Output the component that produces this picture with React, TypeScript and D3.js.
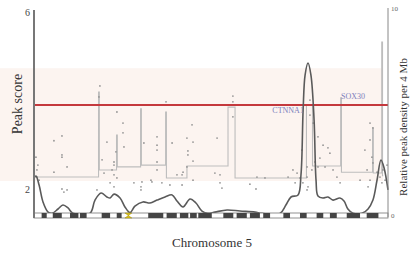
import React from 'react';
import * as d3 from 'd3';

// chromosome 5 positions in Mb
const chromLength = 181;

// relative peak density per 4 Mb (right axis)
const densityPos = [0, 1, 2.6, 4.6, 7.2, 9.2, 12.3, 14.8, 17.4, 19.9, 28.6, 31.2, 34.3, 37.3, 38.9, 40.9, 44, 46.5, 49.1, 51.6, 55.7, 59.3, 62.9, 67, 70.6, 73.1, 76.2, 79.8, 82.8, 85.9, 88.9, 92.5, 98.7, 105.3, 113, 116.6, 125.8, 128.8, 131.4, 135, 136.5, 137.6, 138.6, 140.1, 141.6, 143.2, 144.2, 145.2, 147.7, 150.3, 152.9, 156.4, 158.5, 160.5, 163.1, 167.7, 170.8, 173.3, 175.4, 177.4, 179, 181];
const densityVal = [1.79, 1.88, 1.45, 0.63, 0.14, 0.08, 0.29, 0.48, 0.34, 0.08, 0.08, 0.72, 1.06, 0.87, 0.82, 1.01, 0.82, 0.39, 0.12, 0.43, 0.63, 0.58, 0.72, 0.87, 0.97, 0.68, 0.39, 0.77, 0.58, 0.19, 0.08, 0.14, 0.24, 0.19, 0.14, 0.08, 0.08, 0.48, 0.87, 0.97, 1.93, 5.07, 6.76, 7.34, 6.76, 4.59, 1.69, 0.92, 0.82, 0.87, 0.72, 0.82, 0.68, 0.29, 0.08, 0.08, 0.29, 0.72, 1.69, 2.66, 2.27, 1.21];

// segment levels of peak score
const segStart = [0, 33.0, 33.4, 42.2, 42.6, 54.5, 54.9, 67.3, 67.7, 78.2, 99.2, 102.8, 139.3, 142.4, 156.8, 157.2, 173.1, 173.5, 177.8, 178.2];
const segEnd = [33.0, 33.4, 42.2, 42.6, 54.5, 54.9, 67.3, 67.7, 78.2, 99.2, 102.8, 139.3, 142.4, 156.8, 157.2, 173.1, 173.5, 177.8, 178.2, 178.6];
const segLevel = [2.27, 4.19, 2.43, 3.22, 2.5, 3.81, 2.54, 3.74, 2.25, 2.52, 3.85, 2.25, 3.9, 2.52, 4.06, 2.38, 3.38, 2.36, 5.32, 2.3];

// individual peaks
const peakPos = [13.8, 10.2, 14.3, 14.3, 14.3, 16.9, 10.2, 14.3, 16.9, 15.3, 33.2, 33.7, 42.4, 45.5, 45.5, 37.3, 46, 41.9, 34.8, 40.9, 40.9, 39.9, 35.8, 40.9, 42.4, 38.9, 40.9, 32.2, 51.1, 55.2, 54.7, 54.7, 59.8, 56.2, 1, 1.5, 1.5, 2, 2.6, 67.5, 101.7, 101.7, 101.7, 80.8, 78.2, 81.3, 70.6, 93.6, 62.9, 62.9, 62.9, 78.7, 78.7, 81.3, 62.9, 78.2, 62.9, 76.2, 75.7, 73.1, 69.5, 75.7, 81.3, 95.1, 92.5, 95.1, 96.1, 110.4, 114, 113.5, 118.1, 65.4, 60.3, 141.1, 141.1, 142.7, 145.2, 147.8, 150.3, 151.3, 146.2, 143.7, 142.1, 145.2, 148.8, 152.9, 154.9, 156.5, 132.4, 134.5, 129.9, 136, 137.5, 133.5, 139.6, 140.1, 139.6, 139.6, 137, 171.8, 173.3, 171.8, 169.2, 172.8, 173.3, 170.3, 175.4, 176.9, 178.4, 179.5, 177.9, 171.8, 170.8, 180.5, 166.7];
const peakScore = [3.9, 3.09, 3.2, 2.77, 2.72, 2.5, 2.38, 2.0, 1.98, 1.93, 4.08, 4.33, 3.74, 3.49, 3.27, 3.06, 2.95, 2.84, 2.66, 2.61, 2.54, 2.43, 2.36, 2.32, 2.25, 2.14, 2.05, 1.98, 2.14, 2.16, 2.05, 1.98, 2.2, 3.04, 2.72, 2.43, 2.27, 2.54, 2.2, 3.97, 4.1, 3.97, 3.63, 3.45, 3.15, 3.06, 3.04, 3.15, 3.18, 2.99, 2.88, 2.86, 2.77, 2.63, 2.61, 2.5, 2.43, 2.38, 2.32, 2.32, 2.09, 2.09, 2.2, 2.32, 2.36, 2.14, 2.02, 2.11, 2.27, 2.0, 2.25, 2.14, 2.16, 4.01, 3.67, 3.49, 3.18, 2.99, 2.93, 2.81, 2.7, 2.61, 2.43, 2.5, 2.5, 2.43, 2.27, 2.14, 2.43, 2.36, 2.27, 2.25, 2.14, 2.14, 1.98, 2.05, 2.27, 2.5, 2.88, 3.49, 3.38, 3.11, 2.88, 2.72, 2.59, 2.43, 2.38, 2.27, 2.43, 2.2, 2.14, 2.2, 2.05, 2.54, 2.2];

// cytogenetic bands (dark) and centromere
const bandStart = [3.9, 9.6, 18.4, 23.5, 34.6, 42.3, 58.4, 67.8, 74.6, 79.8, 84.0, 96.8, 103.6, 110.4, 117.2, 127.5, 136.0, 144.5, 151.3, 159.9, 170.1];
const bandEnd = [6.5, 14.2, 22.7, 26.9, 38.9, 44.8, 66.1, 73.0, 78.9, 83.2, 90.9, 101.9, 108.8, 115.5, 120.7, 130.9, 139.4, 147.9, 154.8, 166.7, 176.1];
const centromere = [46.5, 50.0];

const threshold = 3.9;
const bandRange = [2.18, 4.73];

const geneNames = ['CTNNA1', 'SOX30'];
const genePos = [138.0, 157.0];
const geneScore = [3.72, 4.03];
const geneAnchor = ['end', 'start'];

const leftTicks = [2, 6];
const rightTicks = [0, 10];

const App: React.FC = () => {
  const width = 410;
  const height = 254;
  const x = d3.scaleLinear().domain([0, chromLength]).range([34, 388]);
  const y = d3.scaleLinear().domain([2, 6]).range([189, 12]);
  const yR = d3.scaleLinear().domain([0, 10]).range([215, 8]);
  const serif = '"Liberation Serif", "DejaVu Serif", serif';

  const densityLine = d3
    .line<number>()
    .x((d, i) => x(densityPos[i]))
    .y((d) => yR(d))
    .curve(d3.curveCatmullRom.alpha(0.5));

  let stepPath = '';
  segLevel.forEach((lv, i) => {
    const x0 = x(segStart[i]);
    const x1 = x(segEnd[i]);
    const yy = y(lv);
    stepPath += (i === 0 ? `M${x0},${yy}` : `L${x0},${yy}`) + `L${x1},${yy}`;
  });

  const ideoY = 213;
  const ideoH = 5;
  const c0 = x(centromere[0]);
  const c1 = x(centromere[1]);
  const cm = (c0 + c1) / 2;

  return (
    <svg
      width={width}
      height={height}
      style={{ position: 'absolute', left: 0, top: 0, background: '#fff' }}
    >
      {/* highlighted score band */}
      <rect
        x={0}
        y={y(bandRange[1])}
        width={x(178.5)}
        height={y(bandRange[0]) - y(bandRange[1])}
        fill="#fcf4f0"
      />

      {/* segment step line */}
      <path d={stepPath} fill="none" stroke="#bdbdbd" strokeWidth={1.1} />

      {/* peaks */}
      {peakScore.map((s, i) => (
        <circle key={i} cx={x(peakPos[i])} cy={y(s)} r={0.9} fill="#959595" />
      ))}

      {/* threshold */}
      <line x1={x(0)} x2={x(chromLength)} y1={y(threshold)} y2={y(threshold)} stroke="#c4393d" strokeWidth={2} />

      {/* density curve */}
      <path d={densityLine(densityVal) || ''} fill="none" stroke="#5a5a5a" strokeWidth={1.6} />

      {/* gene labels */}
      {geneNames.map((g, i) => (
        <text
          key={g}
          x={x(genePos[i])}
          y={y(geneScore[i])}
          textAnchor={geneAnchor[i]}
          fontFamily={serif}
          fontSize={8}
          fill="#7c80bd"
        >
          {g}
        </text>
      ))}

      {/* ideogram */}
      <rect x={x(0)} y={ideoY} width={x(chromLength) - x(0)} height={ideoH} fill="#fff" stroke="#777" strokeWidth={0.8} />
      {bandStart.map((b, i) => (
        <rect key={i} x={x(b)} y={ideoY} width={x(bandEnd[i]) - x(b)} height={ideoH} fill="#444" />
      ))}
      <path
        d={`M${c0},${ideoY}L${c1},${ideoY}L${cm},${ideoY + ideoH / 2}L${c1},${ideoY + ideoH}L${c0},${ideoY + ideoH}L${cm},${ideoY + ideoH / 2}Z`}
        fill="#d8c21c"
        stroke="#a08a10"
        strokeWidth={0.5}
      />

      {/* left axis */}
      <line x1={34} x2={34} y1={y(6) - 2} y2={218} stroke="#777" strokeWidth={2} />
      {leftTicks.map((t) => (
        <text key={t} x={30} y={y(t) + 3.5} textAnchor="end" fontFamily={serif} fontSize={10} fill="#444">
          {t}
        </text>
      ))}
      <text
        transform={`translate(22,${104}) rotate(-90)`}
        textAnchor="middle"
        fontFamily={serif}
        fontSize={14}
        fill="#333"
      >
        Peak score
      </text>

      {/* right axis */}
      <line x1={388} x2={388} y1={yR(10)} y2={217} stroke="#888" strokeWidth={1} />
      {rightTicks.map((t) => (
        <text key={t} x={391} y={yR(t) + 2.5} textAnchor="start" fontFamily={serif} fontSize={7} fill="#666">
          {t}
        </text>
      ))}
      <text
        transform={`translate(407,${127}) rotate(-90)`}
        textAnchor="middle"
        fontFamily={serif}
        fontSize={11}
        fill="#333"
      >
        Relative peak density per 4 Mb
      </text>

      {/* x label */}
      <text x={212} y={247} textAnchor="middle" fontFamily={serif} fontSize={13} fill="#333">
        Chromosome 5
      </text>
    </svg>
  );
};

export default App;
